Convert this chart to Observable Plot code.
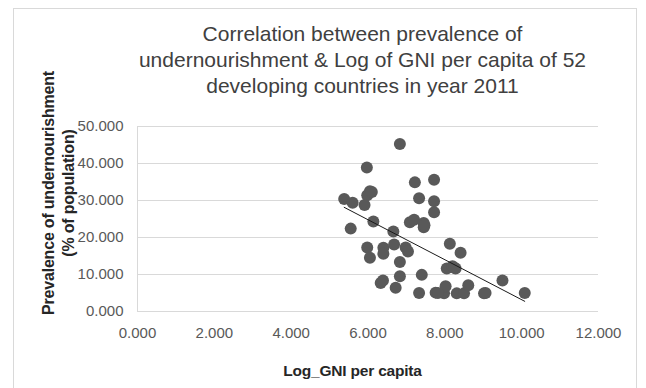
<!DOCTYPE html>
<html><head><meta charset="utf-8">
<script src="https://cdn.jsdelivr.net/npm/d3@7"></script>
<script src="https://cdn.jsdelivr.net/npm/@observablehq/plot@0.6"></script>
<style>
body{margin:0;background:#fff;font-family:"Liberation Sans",Arial,sans-serif;}
#wrap{position:relative;width:646px;height:388px;overflow:hidden;background:#fff}
#frame{position:absolute;left:13px;top:8px;width:624px;height:400px;border:1px solid #d9d9d9;box-sizing:border-box}
#chart{position:absolute;left:0;top:0}
#title{position:absolute;left:0;top:21px;width:725px;text-align:center;font-size:21px;line-height:26px;color:#404040;white-space:nowrap}
#ytitle{position:absolute;left:59px;top:193px;width:320px;transform:translate(-50%,-50%) rotate(-90deg);text-align:center;font-weight:bold;font-size:16px;line-height:20px;color:#262626;white-space:nowrap;letter-spacing:-0.2px}
#xtitle{position:absolute;left:0;top:362px;width:705px;text-align:center;font-weight:bold;font-size:15.5px;line-height:18px;color:#262626;letter-spacing:-0.2px}
</style>
</head><body>
<div id="wrap">
  <div id="frame"></div>
  <div id="chart"></div>
  <div id="title">Correlation between prevalence of<br>undernourishment &amp; Log of GNI per capita of 52<br>developing countries in year 2011</div>
  <div id="ytitle">Prevalence of undernourishment<br>(% of population)</div>
  <div id="xtitle">Log_GNI per capita</div>
</div>
<script>
const logGNI = [6.83,5.97,6.05,5.98,5.91,5.38,5.60,5.55,6.14,7.22,7.72,7.33,7.72,7.72,7.09,7.20,7.45,7.45,6.66,5.98,6.05,6.40,6.40,6.68,6.98,7.04,6.83,8.13,8.41,8.05,8.20,8.28,7.40,6.83,6.33,6.39,6.72,7.33,7.76,7.98,8.02,8.31,8.50,8.61,9.02,9.50,10.08,9.06,7.82,6.10,7.47,8.24];
const undernourishment = [45.3,38.9,32.5,31.4,28.8,30.4,29.4,22.4,24.3,34.9,35.6,30.6,29.8,26.8,24.1,24.8,23.9,22.8,21.6,17.3,14.5,17.2,15.6,18.1,17.3,16.2,13.4,18.3,15.9,11.6,12.2,11.6,9.9,9.5,7.7,8.4,6.4,5.0,5.1,4.9,6.8,4.9,4.9,7.1,4.9,8.4,5.0,5.0,5.0,32.3,23.3,11.9];
const xTicks = [0,2,4,6,8,10,12];
const yTicks = [0,10,20,30,40,50];

const data = logGNI.map((x,i)=>({x, y: undernourishment[i]}));
const fmt = d3.format(".3f");

const chart = Plot.plot({
  width: 646, height: 388,
  marginLeft: 137, marginRight: 48, marginTop: 126, marginBottom: 77,
  style: {fontFamily: "'Liberation Sans', Arial, sans-serif", background: "transparent", overflow: "visible"},
  x: {domain: [0,12]},
  y: {domain: [0,50]},
  marks: [
    Plot.gridY(yTicks, {stroke: "#d9d9d9", strokeOpacity: 1}),
    Plot.ruleX([0], {stroke: "#d9d9d9"}),
    Plot.axisY(yTicks, {tickFormat: fmt, tickSize: 0, tickPadding: 14, fontSize: 15, fill: "#595959", label: null}),
    Plot.axisX(xTicks, {tickFormat: fmt, tickSize: 0, tickPadding: 15.5, fontSize: 15, fill: "#595959", label: null}),
    Plot.dot(data, {x: "x", y: "y", r: 6, fill: "#595959", stroke: "none"}),
    Plot.linearRegressionY(data, {x: "x", y: "y", ci: 0, stroke: "#1a1a1a", strokeWidth: 1})
  ]
});
document.getElementById("chart").appendChild(chart);
</script>
</body></html>
